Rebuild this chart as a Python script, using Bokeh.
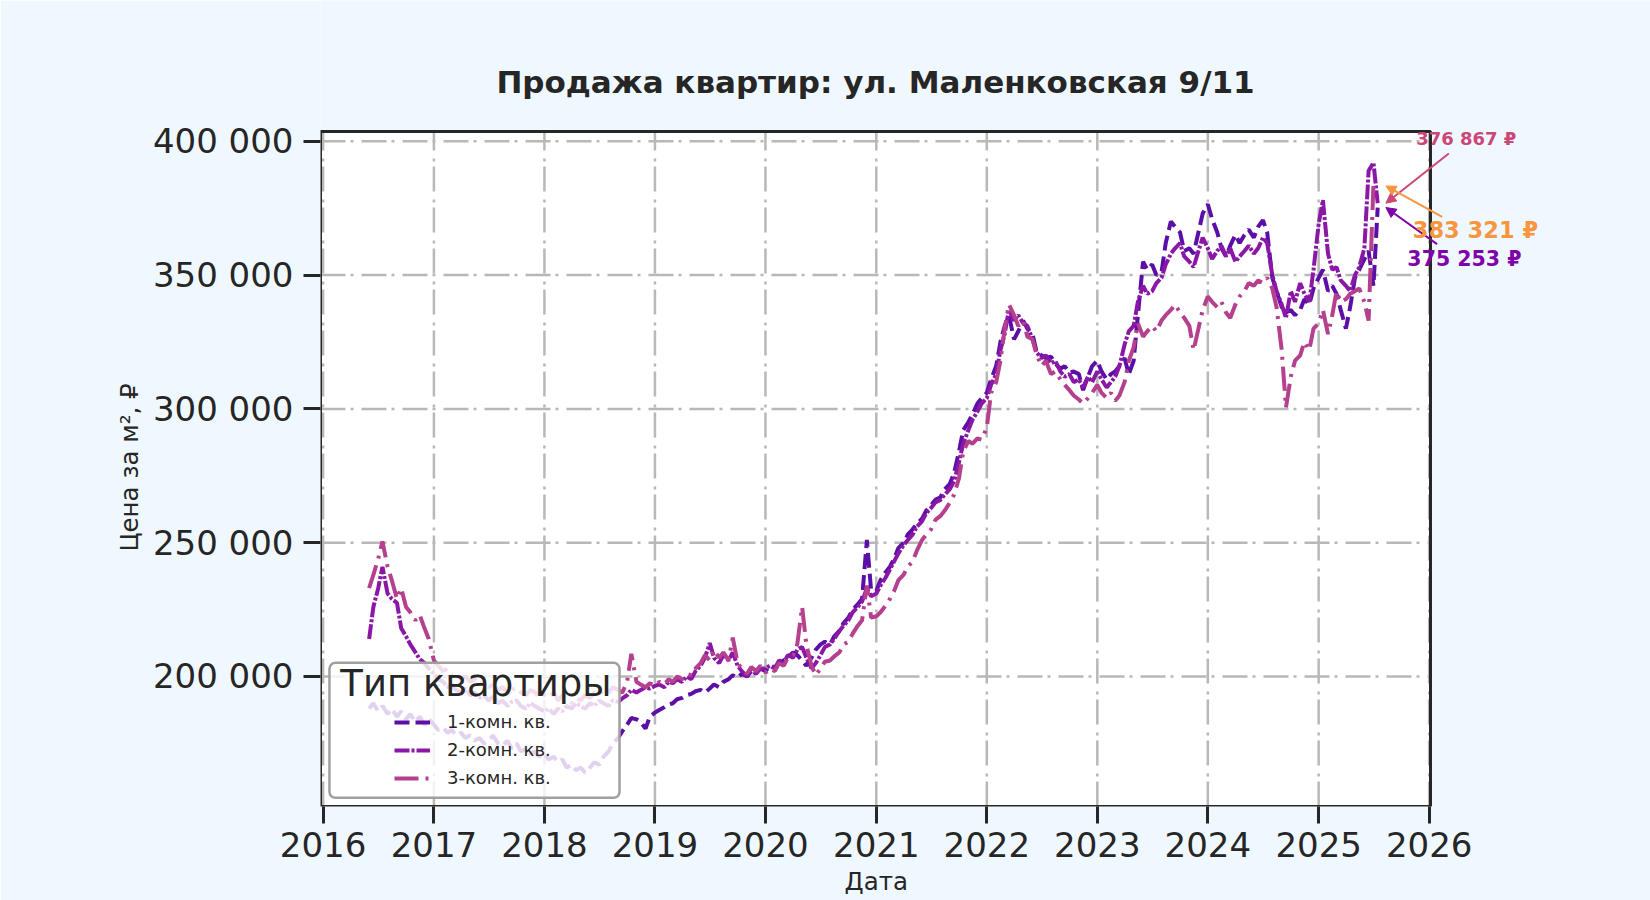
# Продажа квартир: ул. Маленковская 9/11 — цена за м² по типу квартиры
import pandas as pd
from bokeh.embed import file_html
from bokeh.models import Arrow, BoxAnnotation, FixedTicker, Label, Legend, LegendItem, NormalHead, Range1d, Title
from bokeh.plotting import figure
from bokeh.resources import INLINE

# %%
# даты: 1-е и 15-е число каждого месяца
dates = pd.date_range("2016-06-01", "2025-07-15", freq="SMS")

# 1-комн. кв., руб/м²
price_1k = [
    188000, 190000, 187000, 189000, 186000, 188000, 185000, 187000, 184000, 186000, 183000, 185000, 182000, 184000,  # 2016
    182000, 180000, 181000, 179000, 180000, 178000, 179000, 177000, 178000, 176000, 177000, 175000,
    176000, 178000, 175000, 174000, 176000, 173000, 175000, 172000, 173000, 171000, 172000, 170000,  # 2017
    171000, 169000, 170000, 168000, 169000, 166000, 167000, 165000, 166000, 164000, 166000, 168000,
    167000, 170000, 172000, 175000, 177000, 179500, 182000, 184500, 184000, 183000, 180500, 185000,  # 2018
    186500, 187500, 188500, 189500, 190000, 191500, 192000, 193000, 193500, 194500, 195000, 194000,
    195500, 197000, 196000, 198000, 199000, 200500, 199500, 201000, 200000, 202000, 201500, 203000,  # 2019
    202000, 204000, 203500, 205000, 206000, 207000, 209000, 208000, 206000, 204000, 207000, 210000,
    212000, 213000, 212000, 215000, 217000, 220000, 222000, 225000, 227000, 229000, 251000, 232000,  # 2020
    232000, 236000, 239000, 241000, 244000, 248000, 250000, 253000, 255000, 257000, 259000, 262000,
    264000, 266000, 267000, 270000, 272000, 276000, 284000, 292000, 295000, 298000, 302000, 304000,  # 2021
    306000, 311000, 316000, 325000, 331000, 335000, 326000, 329000, 333000, 330000, 328000, 321000,
    320000, 319000, 319500, 317000, 315000, 316000, 313500, 314000, 313000, 307000, 312000, 316000,  # 2022
    318000, 314000, 311000, 313000, 314000, 316000, 319000, 313000, 318000, 335000, 355000, 352000,
    354000, 350000, 351000, 362000, 370000, 368000, 366000, 359000, 360000, 358000, 366000, 373000,  # 2023
    376500, 371000, 366000, 360000, 357000, 361000, 365000, 362000, 365000, 367000, 364000, 368000,
    370500, 366000, 349000, 344000, 338000, 336000, 337000, 335000, 337000, 341000, 339000, 345000,  # 2024
    349000, 352000, 344000, 346000, 343000, 337000, 330000, 338000, 349000, 352000, 356000, 359000, 346000, 375253,  # 2025
]

# 2-комн. кв.
price_2k = [
    214000, 226000, 233000, 241000, 231000, 229000, 227500, 218000, 215000, 212000, 209000, 206500, 205000, 203000,  # 2016
    201000, 199000, 198000, 196000, 197000, 195000, 194000, 195500, 193000, 194000, 192000, 193000,
    191000, 192500, 190000, 191000, 189000, 190500, 191000, 189000, 188000, 190000, 189000, 188000,  # 2017
    187000, 188000, 186000, 188000, 187000, 189000, 188000, 190000, 189000, 188000, 190000, 189000,
    191000, 190000, 189000, 191000, 190500, 191800, 193000, 195000, 194000, 195000, 196000, 195500,  # 2018
    196500, 197000, 196000, 198000, 197500, 199000, 198000, 200000, 199000, 202000, 204000, 207000,
    212500, 207000, 205000, 208000, 206000, 209000, 204000, 202000, 200000, 202000, 201000, 203000,  # 2019
    203000, 204000, 203000, 206000, 205000, 208000, 207000, 210000, 211000, 207000, 203000, 205000,
    208000, 211000, 212000, 214000, 217000, 219000, 221000, 224000, 226000, 228000, 233000, 230000,  # 2020
    231000, 234000, 237000, 240000, 243000, 246000, 249000, 251000, 253000, 256000, 258000, 261000,
    263000, 265000, 266000, 268000, 270000, 273000, 280000, 287000, 292000, 296000, 299000, 302000,  # 2021
    304000, 309000, 313000, 322000, 328000, 337000, 333000, 335000, 332000, 331000, 326000, 321000,
    319000, 320000, 317000, 318000, 314000, 312000, 313000, 310000, 311000, 308000, 312000, 310000,  # 2022
    314000, 311000, 308000, 310000, 312000, 316000, 324000, 329000, 331000, 340000, 346000, 343000,
    344000, 347000, 349000, 354000, 358000, 360000, 362000, 357000, 355000, 353000, 359000, 364000,  # 2023
    360000, 356000, 359000, 361000, 357000, 360000, 355000, 357000, 359000, 361000, 358000, 360000,
    364000, 362000, 350000, 344000, 339000, 334000, 344000, 340000, 347000, 343000, 340000, 352000,  # 2024
    369000, 378000, 358000, 352000, 353000, 348000, 346000, 344000, 350000, 353000, 360000, 389000, 392000, 376867,  # 2025
]

# 3-комн. кв.
price_3k = [
    233000, 238000, 244000, 250500, 241000, 236000, 229000, 233000, 226000, 224000, 221000, 223000, 218000, 214000,  # 2016
    206000, 204000, 202000, 203000, 200000, 201000, 199000, 200000, 198000, 199000, 197000, 198000,
    196000, 197000, 195000, 196000, 194000, 195000, 196000, 194000, 193000, 195000, 194000, 192000,  # 2017
    193000, 192000, 194000, 191000, 193000, 192000, 190000, 192000, 191000, 193000, 192000, 194000,
    193000, 195000, 194000, 196000, 195000, 194000, 198000, 208500, 198000, 197000, 196000, 197500,  # 2018
    196500, 198000, 197000, 199000, 198000, 200000, 199000, 201000, 200500, 203000, 205000, 208000,
    206000, 210000, 207000, 209000, 206000, 214500, 205000, 203000, 201000, 203500, 202000, 204000,  # 2019
    201500, 203000, 202000, 205000, 204000, 207000, 208000, 212000, 226000, 212000, 204000, 200500,
    203000, 205500, 206000, 207500, 209000, 212000, 213000, 216000, 219000, 221000, 234000, 222000,  # 2020
    222500, 224000, 226500, 229000, 232000, 236000, 238000, 241000, 243000, 247000, 251000, 253000,
    255000, 258500, 260000, 262000, 265000, 268000, 274000, 284000, 288000, 287000, 289000, 288500,  # 2021
    293000, 306000, 310000, 318000, 330000, 339000, 335000, 331000, 333000, 327000, 326000, 320000,
    316000, 318000, 313000, 314000, 311000, 309000, 307000, 305000, 303500, 302000, 304000, 306000,  # 2022
    309000, 306000, 304000, 306000, 303000, 305000, 310000, 318000, 323000, 332000, 327000, 329000,
    331000, 329000, 333000, 335000, 337000, 339000, 336000, 334000, 331000, 322000, 330000, 337000,  # 2023
    342000, 340000, 338000, 340000, 336000, 334000, 339000, 342000, 344000, 347000, 346000, 348000,
    347000, 349000, 345000, 338000, 322000, 300500, 312000, 318000, 320000, 325000, 322000, 330000,  # 2024
    332000, 337000, 328000, 335000, 344000, 340000, 341000, 343000, 344000, 345000, 340000, 333000, 384000, 383321,  # 2025
]

series_names = ["1-комн. кв.", "2-комн. кв.", "3-комн. кв."]
x_tick_years = list(range(2016, 2027))
y_ticks = [200000, 250000, 300000, 350000, 400000]
y_tick_labels = ["200 000", "250 000", "300 000", "350 000", "400 000"]

assert len(dates) == len(price_1k) == len(price_2k) == len(price_3k)


def ms(s):
    return pd.Timestamp(s).value / 1e6


# %%
INK = "#262626"
line_colors = ["#5c0fa6", "#8b17a6", "#b5408e"]
line_dashes = ["15 6", "15 2 3 2", "24 7 3 7"]
note_colors = ["#7e03a8", "#cc4778", "#f89540"]

# видимая область графика (как у оригинала); сам frame шире — справа и сверху место под подписи
x_lo, x_hi = ms("2015-12-23 10:00"), ms("2026-01-05 10:00")
y_lo, y_hi = 151420, 403660
W, H = 1650, 900
frame_left, frame_bottom = 320, 94
x_end = x_lo + (x_hi - x_lo) * (W - frame_left) / 1110
y_end = y_lo + (y_hi - y_lo) * (H - frame_bottom) / 675

p = figure(width=W, height=H, x_axis_type="datetime", title=None,
           x_range=Range1d(x_lo, x_end), y_range=Range1d(y_lo, y_end),
           output_backend="svg", toolbar_location=None,
           min_border_left=frame_left, min_border_right=0, min_border_top=0, min_border_bottom=frame_bottom)
p.background_fill_color = "#f0f8ff"
p.border_fill_color = "#f0f8ff"
p.outline_line_color = None
p.xgrid.visible = False
p.ygrid.visible = False

p.xaxis.ticker = FixedTicker(ticks=[ms(f"{y}-01-01") for y in x_tick_years])
p.xaxis.major_label_overrides = {ms(f"{y}-01-01"): str(y) for y in x_tick_years}
p.yaxis.ticker = FixedTicker(ticks=y_ticks)
p.yaxis.major_label_overrides = dict(zip(y_ticks, y_tick_labels))
p.xaxis.bounds = (x_lo, x_hi)
p.yaxis.bounds = (y_lo, y_hi)
for ax in (p.xaxis[0], p.yaxis[0]):
    ax.axis_line_color = None
    ax.major_tick_line_width = 3
    ax.major_tick_line_color = INK
    ax.major_tick_out = 17
    ax.major_tick_in = 0
    ax.minor_tick_line_color = None
    ax.major_label_text_font = "DejaVu Sans"
    ax.major_label_text_font_size = "34px"
    ax.major_label_text_color = INK
p.xaxis.major_label_standoff = 8
p.yaxis.major_label_standoff = 10

# подписи осей — заголовки боковых панелей, сдвинутые к центру видимой области
axis_title_style = dict(text_font="DejaVu Sans", text_font_size="24.5px", text_font_style="normal",
                        text_color=INK, align="left")
p.add_layout(Title(text="Цена за м², ₽", offset=255, standoff=11, **axis_title_style), "left")
p.add_layout(Title(text="Дата", offset=524, standoff=10, **axis_title_style), "below")

# белый фон области графика
p.add_layout(BoxAnnotation(left=x_lo, right=x_hi, bottom=y_lo, top=y_hi, fill_color="white",
                           fill_alpha=1, line_color=None, level="underlay"))

# сетка штрих-пунктиром только внутри видимой области
grid_style = dict(line_color="#b8b8b8", line_width=2.5, line_dash="25 5 3 8")
x_ticks_ms = [ms(f"{y}-01-01") for y in x_tick_years]
p.segment(x0=x_ticks_ms, x1=x_ticks_ms, y0=[y_lo] * len(x_ticks_ms), y1=[y_hi] * len(x_ticks_ms), **grid_style)
p.segment(x0=[x_lo] * len(y_ticks), x1=[x_hi] * len(y_ticks), y0=y_ticks, y1=y_ticks, **grid_style)

renderers = []
for vals, color, dash in zip([price_1k, price_2k, price_3k], line_colors, line_dashes):
    renderers.append(p.line(dates, vals, line_color=color, line_width=4, line_dash=dash))

# рамка области графика
p.add_layout(BoxAnnotation(left=x_lo, right=x_hi, bottom=y_lo, top=y_hi, fill_color=None,
                           line_color=INK, line_alpha=1, line_width=3))

# рамка легенды и её заголовок
p.add_layout(BoxAnnotation(left=ms("2016-01-22"), right=ms("2018-09-06"), top=205110, bottom=154670,
                           fill_color="white", fill_alpha=0.82, line_color="#a0a0a0", line_alpha=1,
                           line_width=2.5, border_radius=6))
p.add_layout(Label(x=ms("2016-02-27"), y=197450, text="Тип квартиры", text_font="DejaVu Sans",
                   text_font_size="37px", text_color=INK, text_baseline="middle", text_align="left"))
legend = Legend(items=[LegendItem(label=n, renderers=[r]) for n, r in zip(series_names, renderers)],
                location=(74, 18), background_fill_color=None, border_line_color=None,
                padding=0, margin=0, spacing=7, glyph_width=36, glyph_height=20, label_height=20,
                label_standoff=17, label_text_font="DejaVu Sans", label_text_font_size="18px",
                label_text_color=INK)
p.add_layout(legend)

# подписи последних значений со стрелками
last_vals = [price_1k[-1], price_2k[-1], price_3k[-1]]
note_pos = [("2025-10-21", 356090, "20.5px"), ("2025-11-19", 400934, "18px"), ("2025-11-08", 366930, "22.5px")]
arrow_start = [("2026-01-27", 361585), ("2026-03-07", 395440), ("2026-02-13", 371785)]
tip_x = ms("2025-08-11")
for v, c, (nx, ny, fs), (ax_, ay) in zip(last_vals, note_colors, note_pos, arrow_start):
    p.add_layout(Arrow(x_start=ms(ax_), y_start=ay, x_end=tip_x, y_end=v, line_color=c, line_width=2,
                       end=NormalHead(size=10, line_color=c, fill_color=c, line_width=1)))
    p.add_layout(Label(x=ms(nx), y=ny, text=f"{v:,}".replace(",", " ") + " ₽", text_color=c,
                       text_font="DejaVu Sans", text_font_size=fs, text_font_style="bold",
                       text_baseline="middle", text_align="left"))

p.add_layout(Label(x=(x_lo + x_hi) / 2, y=422300, text="Продажа квартир: ул. Маленковская 9/11",
                   text_font="DejaVu Sans", text_font_size="31px", text_font_style="bold", text_color=INK,
                   text_align="center", text_baseline="middle"))

open("out.html", "w").write(file_html(p, INLINE))
